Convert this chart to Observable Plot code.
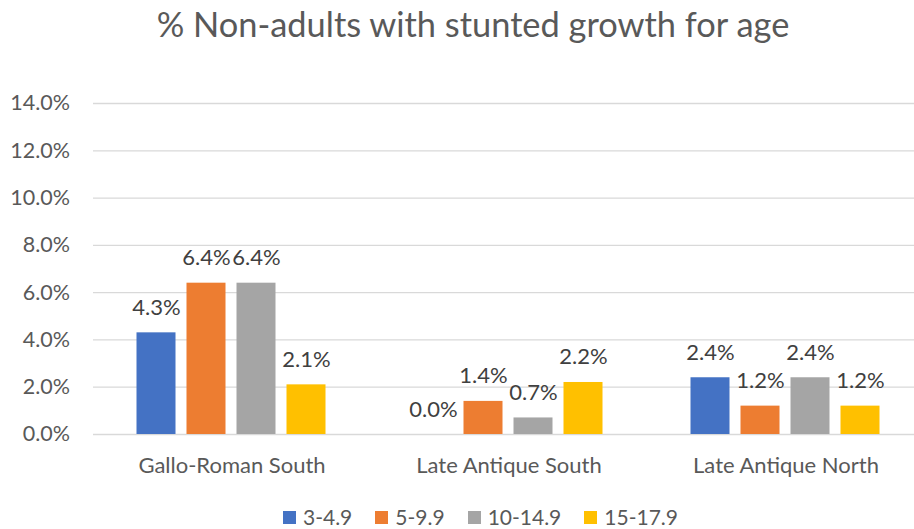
<!DOCTYPE html>
<html>
<head>
<meta charset="utf-8">
<script src="https://cdn.jsdelivr.net/npm/d3@7"></script>
<script src="https://cdn.jsdelivr.net/npm/@observablehq/plot@0.6"></script>
<style>
  html, body { margin: 0; padding: 0; background: #fff; }
  #wrap { position: relative; width: 914px; height: 529px; overflow: hidden; font-family: Lato, sans-serif; }
  #title { position: absolute; left: 473px; top: 6px; transform: translateX(-50%); white-space: nowrap;
           font-size: 34.4px; line-height: 36px; color: #595959; }
  #legend { position: absolute; left: 283px; top: 506px; display: flex; align-items: center;
            font-size: 21px; line-height: 22px; color: #595959; }
  .item { display: flex; align-items: center; margin-right: 23px; }
  .sw { width: 13px; height: 13px; margin-right: 7px; }
  #chart { position: absolute; left: 0; top: 0; }
  #chart g[aria-label="fx-axis tick label"] { font-size: 22px; }
  #chart g[aria-label="y-axis tick label"] { font-size: 21.5px; }
</style>
</head>
<body>
<div id="wrap">
  <div id="chart"></div>
  <div id="title"></div>
  <div id="legend"></div>
</div>
<script>
const titleText = "% Non-adults with stunted growth for age";
const groups = ["Gallo-Roman South", "Late Antique South", "Late Antique North"];
const series = ["3-4.9", "5-9.9", "10-14.9", "15-17.9"];
const colors = ["#4472C4", "#ED7D31", "#A5A5A5", "#FFC000"];
const age3to4 = [0.043, 0.000, 0.024];
const age5to9 = [0.064, 0.014, 0.012];
const age10to14 = [0.064, 0.007, 0.024];
const age15to17 = [0.021, 0.022, 0.012];
const yTicks = [0, 0.02, 0.04, 0.06, 0.08, 0.10, 0.12, 0.14];

const seriesValues = [age3to4, age5to9, age10to14, age15to17];
const data = [];
groups.forEach((g, gi) => {
  series.forEach((s, si) => {
    data.push({group: g, series: s, value: seriesValues[si][gi]});
  });
});

const pct = d3.format(".1%");

const chart = Plot.plot({
  width: 914,
  height: 529,
  marginLeft: 92.5,
  marginRight: -9.5,
  marginTop: 103,
  marginBottom: 95,
  style: {fontFamily: "Lato, sans-serif", fontSize: "20px", color: "#595959", background: "transparent"},
  fx: {domain: groups, padding: 0, label: null, tickSize: 0, tickPadding: 23, axis: "bottom"},
  x: {domain: series, paddingInner: 0.215, paddingOuter: 0.861, axis: null},
  y: {domain: [0, 0.14], ticks: yTicks, tickFormat: pct, tickSize: 0, tickPadding: 23.5, label: null},
  color: {domain: series, range: colors},
  marks: [
    Plot.ruleY(yTicks, {stroke: "#D9D9D9", strokeWidth: 1.3}),
    Plot.barY(data, {fx: "group", x: "series", y: "value", fill: "series"}),
    Plot.text(data, {fx: "group", x: "series", y: "value", text: d => pct(d.value),
      lineAnchor: "bottom", dy: -18, fill: "#404040", fontSize: 22})
  ]
});
document.getElementById("chart").appendChild(chart);

document.getElementById("title").textContent = titleText;
const legend = d3.select("#legend");
series.forEach((s, i) => {
  const it = legend.append("div").attr("class", "item");
  it.append("div").attr("class", "sw").style("background", colors[i]);
  it.append("span").text(s);
});
</script>
</body>
</html>
